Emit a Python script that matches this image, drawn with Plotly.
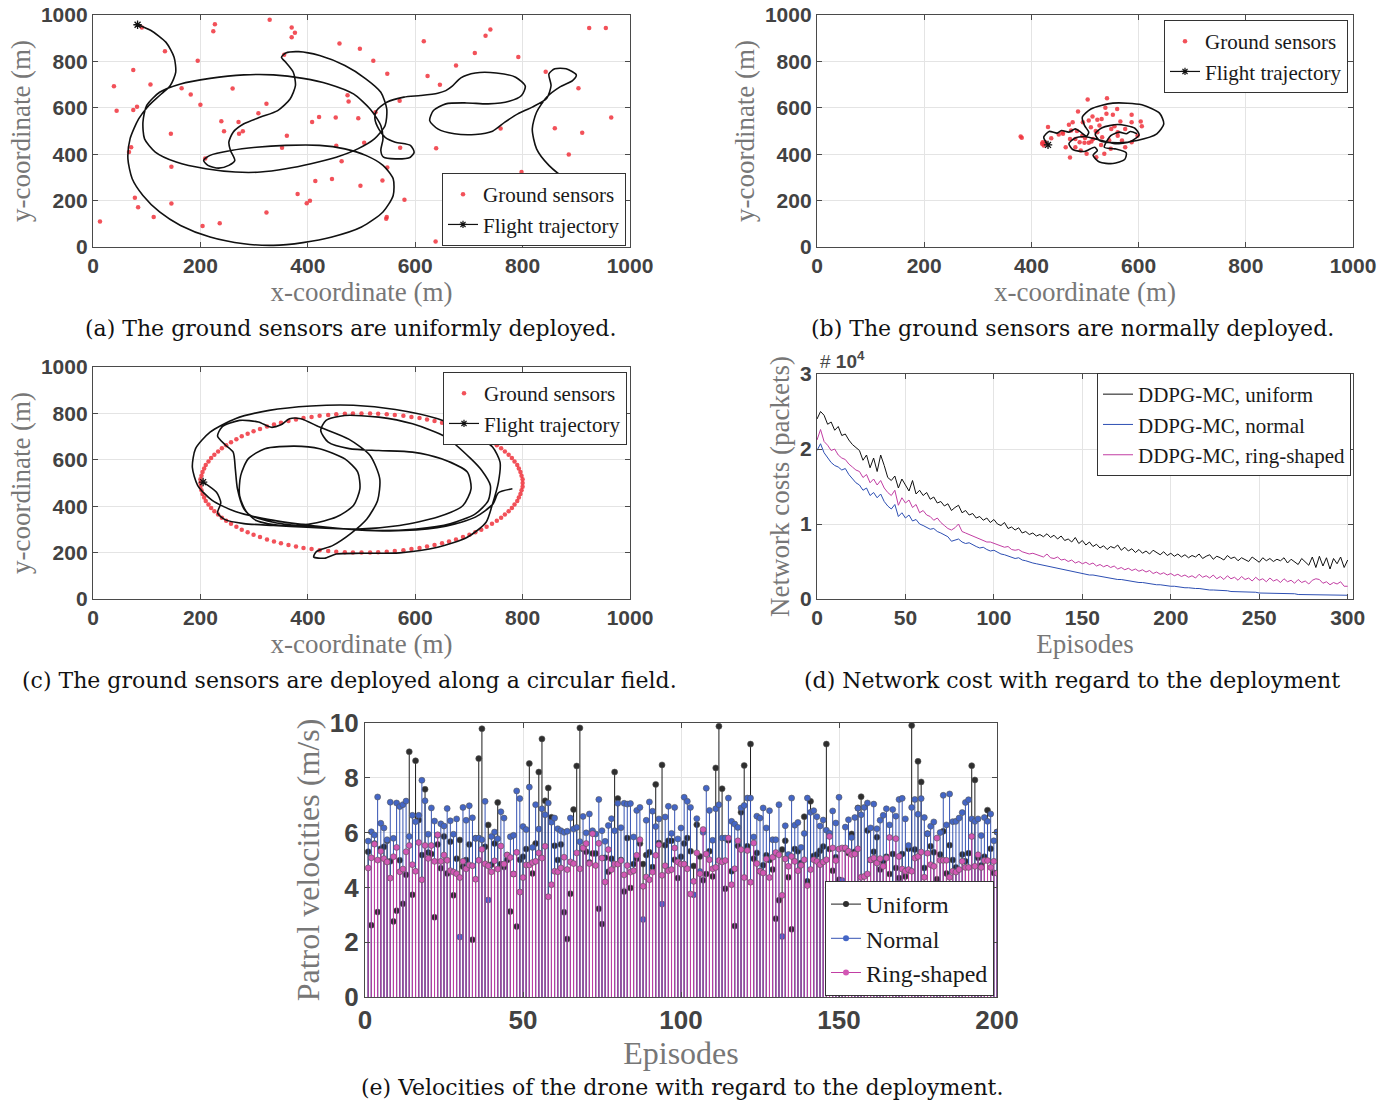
import plotly.graph_objects as go

W, H = 1391, 1102

# ---------------- (a) uniform deployment ----------------
sens_a_x = [91,227,224,329,370,376,370,134,195,75,39,107,44,82,75,165,182,200,260,239,
            244,271,272,279,308,323,361,352,356,459,497,522,548,474,476,421,408,452,494,505,
            463,453,548,539,547,546,580,571,526,572,414,445,498,381,404,398,323,236,204,146,
            146,145,78,84,113,13,71,67,616,623,646,639,676,711,731,740,792,843,759,860,
            886,911,908,798,904,965,924,955,638,209]
sens_a_y = [946,960,930,980,946,924,904,844,803,763,693,700,587,604,591,684,657,613,683,542,
            499,539,488,499,577,617,479,428,829,877,854,803,747,654,627,560,539,558,555,449,
            370,436,343,287,129,122,204,630,581,428,285,293,264,228,199,189,149,102,90,346,
            187,488,212,171,129,110,430,410,887,737,699,426,782,836,911,937,819,755,511,512,
            399,492,293,323,684,558,944,944,24,381]
traj_a_x = [83,108,136,151,154,144,124,104,85,69,65,73,93,124,163,218,281,336,391,445,
            500,540,559,559,540,508,469,422,359,304,257,218,206,214,234,253,264,256,253,261,
            281,312,344,367,377,373,359,351,359,383,422,469,508,536,547,544,524,493,453,406,
            359,312,265,210,155,116,96,93,100,124,163,218,281,336,391,438,485,516,536,540,
            536,541,563,591,598,591,563,544,532,525,528,547,579,610,642,657,669,685,712,751,
            787,805,798,775,736,696,657,634,627,642,673,712,744,767,791,818,845,853,849,860,
            881,900,893,869,845,826,818,826,849,885,928]
traj_a_y = [958,933,882,818,753,696,653,610,552,466,380,294,222,151,93,43,14,7,19,43,
            86,151,222,294,352,395,423,438,438,430,416,395,373,352,340,352,373,416,452,495,
            531,560,588,638,696,753,796,818,836,842,825,782,725,667,595,524,466,423,387,359,
            337,323,323,337,366,409,466,538,610,667,703,727,742,742,727,703,660,595,524,466,
            416,387,380,387,409,438,452,473,509,552,588,624,646,653,663,674,693,729,750,750,
            732,693,653,628,617,621,617,588,545,509,488,485,499,538,574,603,641,696,746,768,
            768,742,717,689,646,581,509,423,352,287,237]

# ---------------- (b) normal deployment ----------------
sens_b_x = [380,382,421,423,431,451,458,470,477,487,505,541,514,523,531,560,552,587,604,606,
            587,575,561,549,527,515,490,492,503,499,507,472,464,482,472,536,521,548,575,598,
            587,532,523,561,569,511,496,474,459,437,482,540,507,420,426,500,512,530,545,555,
            566,520,485,495,538]
sens_b_y = [476,471,452,438,517,485,495,527,538,584,636,641,562,549,552,595,570,570,541,521,
            538,509,479,509,524,466,452,416,402,449,449,466,430,430,386,402,387,423,430,480,
            452,473,495,495,459,516,538,502,488,469,466,574,545,445,452,470,455,440,460,520,
            541,500,500,480,600]
traj_b_x = [431,423,433,448,456,470,482,492,503,507,499,495,511,552,606,639,647,634,597,561,
            527,519,532,561,593,601,585,556,531,519,507,499,481,470,478,499,518,523,515,527,
            552,574,577,556,536,548,564,577,585,597]
traj_b_y = [440,473,498,491,502,495,509,495,478,495,524,560,595,620,613,577,531,488,459,449,
            459,488,514,528,512,483,455,445,459,466,473,476,469,445,419,412,430,416,395,366,
            360,377,406,423,430,480,495,488,498,488]

# ---------------- (c) ring-shaped deployment ----------------
sens_c_x = [800,800,798,796,793,790,785,780,774,767,760,752,743,733,723,712,701,689,676,663,
            650,636,622,608,593,578,562,547,531,516,
            500,484,469,453,438,422,407,392,378,364,350,337,324,311,299,288,277,267,257,248,
            240,233,226,220,215,210,207,204,202,200,
            200,200,202,204,207,210,215,220,226,233,240,248,257,267,277,288,299,311,324,337,
            350,364,378,392,407,422,438,453,469,484,
            500,516,531,547,562,578,593,608,622,636,650,663,676,689,701,712,723,733,743,752,
            760,767,774,780,785,790,793,796,798,800]
sens_c_y = [500,516,531,547,562,578,593,608,622,636,650,663,676,689,701,712,723,733,743,752,
            760,767,774,780,785,790,793,796,798,800,
            800,800,798,796,793,790,785,780,774,767,760,752,743,733,723,712,701,689,676,663,
            650,636,622,608,593,578,562,547,531,516,
            500,484,469,453,438,422,407,392,378,364,350,337,324,311,299,288,277,267,257,248,
            240,233,226,220,215,210,207,204,202,200,
            200,200,202,204,207,210,215,220,226,233,240,248,257,267,277,288,299,311,324,337,
            350,364,378,392,407,422,438,453,469,484]
traj_c_x = [205,230,238,232,246,281,336,398,469,532,602,665,712,736,740,724,704,657,595,532,
            469,434,424,438,477,532,595,649,697,704,689,642,571,493,414,336,289,273,275,289,
            320,375,422,469,493,497,485,453,406,351,304,281,269,265,261,246,232,240,273,308,
            332,350,366,387,422,477,516,534,530,510,481,446,416,411,431,453,500,571,642,697,
            732,744,755,758,744,704,642,563,485,406,328,265,218,191,185,195,222,265,328,406,
            493,579,657,712,745,755,781]
traj_c_y = [504,460,414,371,342,325,317,309,302,295,302,324,367,424,489,554,604,698,755,784,
            791,770,727,676,648,640,633,604,547,475,403,353,317,302,309,331,367,446,532,604,
            648,659,648,604,547,475,403,353,324,317,338,389,475,561,633,665,702,741,770,763,
            740,751,777,777,741,688,619,518,425,345,284,230,204,181,176,194,197,199,223,266,
            331,410,504,590,655,719,777,817,835,832,813,777,719,648,568,489,425,377,342,317,
            298,295,314,353,410,458,475]

# ---------------- (d) network costs (x 10^4 packets) ----------------
cost_uniform = [2.40,2.50,2.45,2.33,2.36,2.25,2.30,2.18,2.20,2.12,2.06,
                2.02,1.98,1.85,1.92,1.75,1.88,1.70,1.92,1.78,1.62,
                1.58,1.64,1.48,1.60,1.52,1.44,1.58,1.40,1.45,1.38,
                1.42,1.33,1.36,1.28,1.30,1.24,1.27,1.18,1.22,1.25,
                1.15,1.18,1.12,1.14,1.08,1.10,1.05,1.08,1.02,1.06,
                1.00,0.98,1.02,0.94,0.96,0.92,0.95,0.88,0.90,0.86,
                0.88,0.84,0.86,0.83,0.87,0.82,0.85,0.80,0.84,0.78,
                0.80,0.76,0.82,0.74,0.78,0.72,0.76,0.70,0.73,0.68,
                0.71,0.66,0.70,0.68,0.72,0.65,0.69,0.64,0.67,0.62,
                0.66,0.61,0.64,0.60,0.65,0.62,0.59,0.63,0.58,0.61,
                0.57,0.60,0.56,0.59,0.55,0.58,0.56,0.60,0.54,0.57,
                0.59,0.53,0.57,0.55,0.52,0.58,0.54,0.56,0.51,0.55,
                0.53,0.50,0.56,0.52,0.49,0.55,0.51,0.54,0.50,0.53,
                0.51,0.55,0.48,0.53,0.50,0.46,0.54,0.49,0.45,0.56,
                0.42,0.57,0.44,0.55,0.40,0.54,0.47,0.56,0.42,0.52]
cost_normal = [1.98,2.07,1.95,1.88,1.82,1.78,1.76,1.72,1.74,1.66,1.60,
               1.55,1.52,1.45,1.48,1.38,1.42,1.35,1.40,1.30,1.24,
               1.20,1.26,1.10,1.15,1.08,1.12,1.04,1.06,1.00,0.98,
               0.96,0.93,0.94,0.90,0.88,0.86,0.83,0.77,0.79,0.80,
               0.76,0.74,0.75,0.72,0.70,0.68,0.69,0.66,0.64,0.65,
               0.62,0.60,0.59,0.57,0.56,0.54,0.55,0.52,0.51,0.49,
               0.48,0.47,0.46,0.44,0.43,0.42,0.41,0.40,0.39,0.38,
               0.37,0.36,0.35,0.35,0.34,0.33,0.32,0.32,0.31,0.30,
               0.29,0.28,0.28,0.27,0.26,0.26,0.25,0.24,0.24,0.23,
               0.22,0.22,0.21,0.20,0.20,0.19,0.19,0.18,0.18,0.17,
               0.17,0.16,0.16,0.15,0.15,0.14,0.14,0.14,0.13,0.13,
               0.12,0.12,0.12,0.11,0.11,0.11,0.10,0.10,0.10,0.10,
               0.09,0.09,0.09,0.09,0.08,0.08,0.08,0.08,0.08,0.07,
               0.07,0.07,0.07,0.07,0.07,0.06,0.06,0.06,0.06,0.06,
               0.06,0.06,0.05,0.05,0.05,0.05,0.05,0.05,0.05,0.05]
cost_ring = [2.12,2.26,2.10,2.05,1.98,2.00,1.92,1.88,1.86,1.80,1.76,
             1.72,1.70,1.62,1.66,1.55,1.60,1.52,1.58,1.48,1.42,
             1.38,1.45,1.25,1.35,1.28,1.32,1.22,1.26,1.15,1.18,
             1.12,1.10,1.05,1.08,1.02,0.98,0.94,0.92,0.95,1.00,
             0.90,0.88,0.86,0.84,0.82,0.80,0.78,0.76,0.76,0.74,
             0.72,0.70,0.69,0.70,0.66,0.65,0.66,0.63,0.62,0.60,
             0.61,0.59,0.58,0.56,0.60,0.55,0.54,0.56,0.52,0.53,
             0.50,0.52,0.48,0.50,0.47,0.49,0.46,0.48,0.44,0.46,
             0.43,0.45,0.42,0.44,0.40,0.42,0.39,0.41,0.38,0.40,
             0.37,0.39,0.36,0.38,0.34,0.36,0.33,0.35,0.32,0.34,
             0.31,0.33,0.30,0.32,0.29,0.31,0.28,0.33,0.29,0.31,
             0.28,0.32,0.27,0.30,0.26,0.31,0.27,0.29,0.25,0.30,
             0.26,0.28,0.24,0.29,0.25,0.27,0.23,0.28,0.24,0.26,
             0.22,0.27,0.23,0.25,0.21,0.26,0.22,0.24,0.20,0.25,
             0.27,0.26,0.21,0.23,0.19,0.22,0.20,0.23,0.17,0.17]
episodes_d = list(range(0, 301, 2))

# ---------------- (e) patrol velocities (m/s) ----------------
vel_uniform = [5.30,2.62,5.60,3.10,5.41,5.48,5.70,4.95,2.76,3.15,
               4.99,3.40,4.46,8.95,3.73,8.62,6.46,5.18,7.58,5.27,
               5.22,2.91,5.57,4.70,5.86,4.51,5.67,3.71,5.05,5.73,
               4.76,5.00,5.57,2.09,5.79,8.70,9.79,5.48,6.28,4.83,
               5.60,7.10,4.85,4.74,5.00,3.12,4.49,2.57,5.01,5.12,
               5.40,8.52,4.51,5.60,8.21,9.42,7.16,7.63,6.56,5.52,
               5.00,5.57,3.09,2.12,3.77,6.84,8.43,9.82,5.40,5.30,
               4.91,5.24,5.24,3.22,2.66,5.08,4.57,5.05,8.21,7.24,
               5.00,3.85,5.80,3.98,4.85,5.05,5.60,4.85,5.18,5.28,
               4.74,7.76,5.62,8.47,5.54,5.70,5.70,5.01,4.34,5.12,
               5.60,5.80,5.32,4.78,6.29,5.13,4.26,4.49,5.32,4.40,
               8.36,9.88,7.60,3.95,5.72,4.59,2.59,5.52,6.74,8.45,
               5.50,9.23,5.05,5.26,4.59,4.81,5.17,5.00,4.65,2.86,
               3.53,5.38,5.70,4.37,2.47,5.40,5.32,4.89,6.58,4.22,
               7.14,5.15,5.20,5.34,5.49,9.23,5.40,4.61,5.10,4.28,
               3.73,5.40,5.26,5.95,5.30,6.90,7.31,3.92,6.08,5.00,
               5.30,5.83,4.65,4.95,5.12,4.49,5.22,4.71,4.34,5.22,
               4.40,5.41,9.91,5.38,8.60,7.85,4.71,5.96,5.50,5.28,
               4.30,5.20,6.05,4.51,5.54,5.00,4.73,3.89,5.20,4.95,
               5.25,8.44,7.92,5.08,4.80,5.12,6.82,5.41,4.53,6.02]
vel_normal = [5.69,6.03,5.91,7.30,6.34,6.17,5.74,7.11,5.79,7.08,
              6.95,7.02,7.15,5.86,6.63,6.40,6.63,7.91,7.16,5.94,
              6.90,6.42,5.90,6.32,6.24,6.88,6.43,5.94,6.50,2.19,
              6.92,6.45,6.98,6.54,5.79,5.80,5.74,7.14,3.54,5.86,
              6.02,5.78,6.76,6.53,5.18,5.85,5.90,7.52,7.24,6.22,
              6.11,7.66,5.46,7.02,6.13,6.87,6.65,7.08,6.38,6.53,
              6.14,6.07,6.01,6.05,6.53,6.13,6.19,5.67,6.59,5.99,
              6.68,6.07,5.95,7.21,6.07,5.68,6.26,6.51,6.07,7.07,
              6.18,7.07,7.04,7.06,5.84,6.81,6.92,2.83,6.45,7.12,
              6.78,6.22,6.50,3.39,6.57,6.96,5.97,6.92,5.77,6.17,
              7.29,7.14,6.92,3.73,6.51,4.58,6.01,7.62,6.81,5.72,
              6.87,7.02,5.80,5.80,7.26,6.41,6.31,6.19,6.90,6.99,
              7.26,7.26,5.84,6.60,6.53,6.90,6.17,6.80,5.74,5.74,
              7.02,2.21,6.25,5.20,7.26,6.27,6.37,5.46,5.97,7.26,
              6.74,6.80,6.58,6.24,6.46,6.09,5.98,6.79,6.35,7.29,
              4.25,6.20,6.47,5.82,6.55,6.89,6.65,6.92,7.08,6.17,
              7.04,6.14,6.45,6.63,6.87,6.28,6.84,6.60,7.21,7.25,
              6.50,5.53,6.92,7.21,6.67,7.24,6.55,5.96,6.23,6.39,
              3.83,6.00,7.36,6.28,7.41,6.40,6.41,6.53,6.73,7.10,
              7.20,6.50,6.41,6.50,5.89,6.55,6.41,6.68,5.70,6.02]
vel_ring = [4.71,5.08,5.58,5.00,5.32,5.05,4.93,4.34,5.12,5.46,
            4.57,4.67,5.30,5.53,4.83,4.59,5.64,4.28,5.53,5.06,
            5.53,4.95,5.92,4.95,5.18,4.99,4.61,4.56,4.50,4.36,
            4.95,4.68,4.82,4.79,4.30,4.99,5.39,4.86,4.79,4.57,
            4.97,4.67,5.51,4.85,5.18,5.09,4.49,5.28,3.83,4.36,
            4.82,4.82,4.91,4.95,5.26,5.07,5.50,3.66,4.10,4.59,
            4.57,4.71,5.10,4.65,4.93,4.87,5.26,4.68,5.44,5.60,
            4.87,5.96,4.80,5.61,5.07,4.20,5.38,4.65,4.85,4.85,
            4.98,4.46,4.80,4.56,4.61,5.17,5.74,4.04,4.38,4.28,
            4.56,5.17,5.56,4.44,4.79,4.61,4.65,5.44,4.93,4.85,
            4.85,4.68,3.76,4.22,5.26,4.50,6.11,5.22,5.01,4.68,
            4.73,4.98,4.93,4.98,5.80,4.10,4.68,5.70,5.38,4.36,
            5.35,4.19,5.62,4.87,4.59,4.53,5.04,4.36,5.10,5.27,
            5.19,3.71,5.04,4.77,5.13,4.95,4.61,4.81,5.01,4.07,
            4.65,5.01,4.95,4.83,4.93,5.01,5.86,5.44,4.98,5.40,
            5.44,5.44,5.32,5.20,5.22,5.41,4.37,4.40,4.49,5.01,
            5.07,4.89,5.05,4.77,5.07,5.82,4.10,5.78,5.13,4.67,
            4.59,4.65,4.59,5.07,5.13,5.29,4.37,5.25,4.83,4.77,
            5.80,4.99,4.99,4.99,4.37,4.59,4.56,4.65,4.95,4.73,
            4.73,5.86,4.77,5.19,4.73,4.98,4.98,4.73,4.95,4.52]
episodes_e = list(range(1, 201))

# ---------------- styles ----------------
RED = '#f0323c'
TRAJ = '#111111'
C_UNI, C_NOR, C_RING = '#111111', '#2d4fb3', '#c23ea3'
TICKFONT = dict(family='Liberation Sans, Arial, sans-serif', size=21, color='#424242', weight='bold')
TITLEFONT = dict(family='Liberation Serif, Times New Roman, serif', size=27, color='#777777')
LEGFONT = dict(family='Liberation Serif, Times New Roman, serif', size=21, color='#1a1a1a')
CAPFONT = dict(family='DejaVu Serif, serif', size=22, color='#111111')

fig = go.Figure()


def add_deploy(sx, sy, tx, ty, xa, ya, leg):
    fig.add_trace(go.Scatter(x=sx, y=sy, mode='markers', xaxis=xa, yaxis=ya,
                             marker=dict(color=RED, size=4.5, opacity=0.85),
                             name='Ground sensors', legend=leg))
    fig.add_trace(go.Scatter(x=tx, y=ty, mode='lines', xaxis=xa, yaxis=ya, showlegend=False,
                             line=dict(color=TRAJ, width=1.6, shape='spline', smoothing=0.7),
                             hoverinfo='skip', legend=leg))
    fig.add_trace(go.Scatter(x=tx[:1], y=ty[:1], mode='markers', xaxis=xa, yaxis=ya,
                             marker=dict(symbol='asterisk-open', size=7, color=TRAJ,
                                         line=dict(width=1.3, color=TRAJ)),
                             name='Flight trajectory', legend=leg, showlegend=False))
    fig.add_trace(go.Scatter(x=[None], y=[None], mode='lines+markers', xaxis=xa, yaxis=ya,
                             line=dict(color=TRAJ, width=1.2),
                             marker=dict(symbol='asterisk-open', size=6, color=TRAJ,
                                         line=dict(width=1.2, color=TRAJ)),
                             name='Flight trajectory', legend=leg))


add_deploy(sens_a_x, sens_a_y, traj_a_x, traj_a_y, 'x', 'y', 'legend')
add_deploy(sens_b_x, sens_b_y, traj_b_x, traj_b_y, 'x2', 'y2', 'legend2')
add_deploy(sens_c_x, sens_c_y, traj_c_x, traj_c_y, 'x3', 'y3', 'legend3')

# (d)
for vals, col, nm in [(cost_uniform, C_UNI, 'DDPG-MC, uniform'),
                      (cost_normal, C_NOR, 'DDPG-MC, normal'),
                      (cost_ring, C_RING, 'DDPG-MC, ring-shaped')]:
    fig.add_trace(go.Scatter(x=episodes_d, y=vals, mode='lines', xaxis='x4', yaxis='y4',
                             line=dict(color=col, width=1), name=nm, legend='legend4'))

# (e) stems
for vals, col, mcol, nm in [(vel_uniform, '#1c1c1c', '#2e2e2e', 'Uniform'),
                            (vel_normal, '#3553b3', '#4466c6', 'Normal'),
                            (vel_ring, '#c23ea3', '#d257b4', 'Ring-shaped')]:
    sx, sy = [], []
    for e, v in zip(episodes_e, vals):
        sx += [e, e, None]
        sy += [0, v, None]
    fig.add_trace(go.Scatter(x=sx, y=sy, mode='lines', xaxis='x5', yaxis='y5',
                             line=dict(color=col, width=1), showlegend=False, hoverinfo='skip'))
    fig.add_trace(go.Scatter(x=episodes_e, y=vals, mode='markers', xaxis='x5', yaxis='y5',
                             marker=dict(color=mcol, size=6, line=dict(width=0.6, color='#555555')),
                             showlegend=False))
    fig.add_trace(go.Scatter(x=[None], y=[None], mode='lines+markers', xaxis='x5', yaxis='y5',
                             line=dict(color=col, width=1),
                             marker=dict(color=mcol, size=6),
                             name=nm, legend='legend5'))


def ax(domain, rng, dtick, anchor, title, standoff, tickfont=TICKFONT, titlefont=TITLEFONT):
    return dict(domain=domain, range=rng, dtick=dtick, anchor=anchor, automargin=False,
                showline=True, linecolor='#4a4a4a', linewidth=1.3, mirror='ticks',
                ticks='inside', ticklen=5, tickcolor='#4a4a4a',
                showgrid=True, gridcolor='#e4e4e4', gridwidth=1, zeroline=False,
                tickfont=tickfont, title=dict(text=title, font=titlefont, standoff=standoff))


xa_l = [93 / W, 630 / W]
xa_r = [817 / W, 1353 / W]
ya_top = [1 - 247 / H, 1 - 15 / H]
ya_mid = [1 - 599 / H, 1 - 367 / H]
ya_d = [1 - 599 / H, 1 - 374 / H]

TICK_E = dict(TICKFONT, size=26)
TITLE_E = dict(TITLEFONT, size=32)


def legend_at(right, ypix, anchor='top', font=LEGFONT):
    return dict(x=right / W, y=1 - ypix / H, xanchor='right', yanchor=anchor,
                bgcolor='white', bordercolor='#333333', borderwidth=1,
                font=font, itemwidth=30, tracegroupgap=0)


fig.update_layout(
    width=W, height=H, margin=dict(l=0, r=0, t=0, b=0, autoexpand=False),
    paper_bgcolor='white', plot_bgcolor='white',
    xaxis=ax(xa_l, [0, 1000], 200, 'y', 'x-coordinate (m)', 1),
    yaxis=ax(ya_top, [0, 1000], 200, 'x', 'y-coordinate (m)', 2),
    xaxis2=ax(xa_r, [0, 1000], 200, 'y2', 'x-coordinate (m)', 1),
    yaxis2=ax(ya_top, [0, 1000], 200, 'x2', 'y-coordinate (m)', 2),
    xaxis3=ax(xa_l, [0, 1000], 200, 'y3', 'x-coordinate (m)', 1),
    yaxis3=ax(ya_mid, [0, 1000], 200, 'x3', 'y-coordinate (m)', 2),
    xaxis4=ax(xa_r, [0, 303], 50, 'y4', 'Episodes', 1),
    yaxis4=ax(ya_d, [0, 3], 1, 'x4', 'Network costs (packets)', 2),
    xaxis5=ax([365 / W, 997 / W], [0, 200], 50, 'y5', 'Episodes', 0, TICK_E, TITLE_E),
    yaxis5=ax([1 - 997 / H, 1 - 723 / H], [0, 10], 2, 'x5', 'Patrol velocities (m/s)', 0, TICK_E, TITLE_E),
    legend=legend_at(626, 246, 'bottom'),
    legend2=legend_at(1348, 20),
    legend3=legend_at(627, 372),
    legend4=legend_at(1351, 373),
    legend5=legend_at(994, 996, 'bottom', dict(LEGFONT, size=24)),
    showlegend=True,
)

captions = [
    ('(a) The ground sensors are uniformly deployed.', 350, 328),
    ('(b) The ground sensors are normally deployed.', 1072, 328),
    ('(c) The ground sensors are deployed along a circular field.', 349, 680),
    ('(d) Network cost with regard to the deployment', 1072, 680),
    ('(e) Velocities of the drone with regard to the deployment.', 682, 1087),
]
for txt, cx, cy in captions:
    fig.add_annotation(text=txt, x=cx / W, y=1 - cy / H, xref='paper', yref='paper',
                       showarrow=False, xanchor='center', yanchor='middle', font=CAPFONT)

fig.add_annotation(text='# <b>10</b><sup><b>4</b></sup>', x=818 / W, y=1 - 360 / H,
                   xref='paper', yref='paper', showarrow=False, xanchor='left', yanchor='middle',
                   font=dict(family='Liberation Sans, Arial, sans-serif', size=19, color='#474747'))

fig.write_html('out.html')
